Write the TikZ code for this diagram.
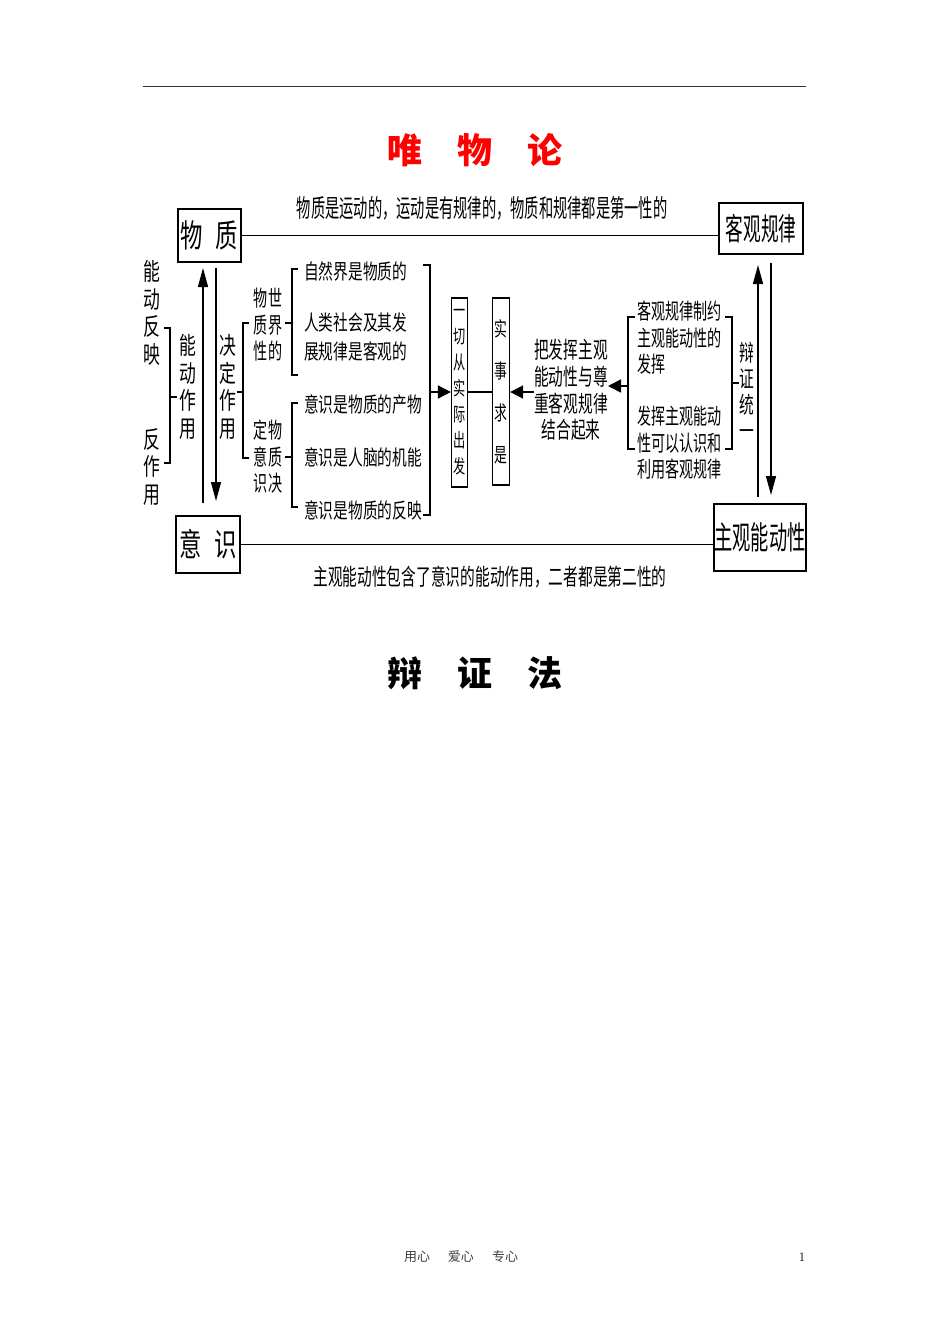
\documentclass[tikz,border=0pt]{standalone}
\usepackage{fontspec}
\usetikzlibrary{arrows.meta}
\newfontfamily\cjkA[FakeStretch=0.57]{Noto Sans CJK SC}
\newfontfamily\cjkB[FakeStretch=0.64]{Noto Sans CJK SC}
\newfontfamily\cjkC[FakeStretch=0.70]{Noto Sans CJK SC}
\newfontfamily\cjkT{Noto Sans CJK SC}
\begin{document}
\begin{tikzpicture}[x=1pt,y=-1pt,
  box/.style={draw, line width=1.4pt, inner sep=0pt},
  conn/.style={line width=1.6pt},
  brk/.style={line width=1.3pt},
  varr/.style={line width=1.3pt, -{Triangle[length=19pt,width=10pt]}},
  harr/.style={line width=1.6pt, -{Triangle[length=13pt,width=13pt]}},
  lblA/.style={inner sep=0pt, font=\cjkA\fontsize{25}{25}\selectfont},
  lblB/.style={inner sep=0pt, font=\cjkB\fontsize{23}{23}\selectfont},
  lst/.style={inner sep=0pt, anchor=west, font=\cjkC\fontsize{21}{21}\selectfont},
  rlst/.style={inner sep=0pt, anchor=west, align=left, font=\cjkB\fontsize{22}{26.5}\selectfont},
  vert/.style={inner sep=0pt, align=center, font=\cjkC\fontsize{24}{27.7}\selectfont},
  grp/.style={inner sep=0pt, align=center, font=\cjkB\fontsize{22}{26.5}\selectfont},
  title/.style={inner sep=0pt, font=\cjkT\bfseries\fontsize{35}{35}\selectfont}
]
\fill[white] (0,0) rectangle (950,1344);
\useasboundingbox (0,0) rectangle (950,1344);

% top rule
\draw[line width=0.9pt, black!80] (143,86) -- (806,86);

% title
\node[title, text=red] (t1) at (475,150) {唯\hspace{35pt}物\hspace{35pt}论};

% boxes
\node[box, minimum width=63pt, minimum height=53pt, font=\cjkC\fontsize{32}{32}\selectfont] (wz) at (209.5,235.5) {物\hspace{13pt}质};
\node[box, minimum width=84pt, minimum height=51pt, font=\cjkA\fontsize{31}{31}\selectfont] (kg) at (761,228.5) {客观规律};
\node[box, minimum width=64pt, minimum height=57pt, font=\cjkC\fontsize{32}{32}\selectfont] (ys) at (208,544.5) {意\hspace{13pt}识};
\node[box, minimum width=92pt, minimum height=67pt, font=\cjkA\fontsize{32}{32}\selectfont] (zd) at (760,537.5) {主观能动性};

% horizontal connectors
\draw[conn] (wz.east) -- (wz.east -| kg.west);
\draw[conn] (ys.east) -- (ys.east -| zd.west);
\node[lblA] (l1) at (482,208) {物质是运动的，运动是有规律的，物质和规律都是第一性的};
\node[lblB] (l2) at (490,577) {主观能动性包含了意识的能动作用，二者都是第二性的};

% left vertical texts
\node[vert] (nd) at (152,313) {能\\动\\反\\映};
\node[vert] (fz) at (152,467) {反\\作\\用};
\node[vert] (ndzy) at (188,387) {能\\动\\作\\用};
\node[vert] (jdzy) at (228,387) {决\\定\\作\\用};

% bracket near 能动反映 / 反作用
\draw[brk] (164,328) -- (170,328) -- (170,463) -- (164,463);
\draw[brk] (170,397) -- (177,397);

% left arrows
\coordinate (a1s) at (203,503); \coordinate (a1e) at (203,268);
\coordinate (a2s) at (216,268); \coordinate (a2e) at (216,501);
\draw[varr] (a1s) -- (a1e);
\draw[varr] (a2s) -- (a2e);

% bracket for two groups
\draw[brk] (249,323) -- (243,323) -- (243,458) -- (249,458);
\draw[brk] (237,392) -- (243,392);

% group labels
\node[grp] (g1) at (268,325) {物世\\质界\\性的};
\node[grp] (g2) at (268,457) {定物\\意质\\识决};

% group 1 bracket
\draw[brk] (298,269) -- (292,269) -- (292,375) -- (298,375);
\draw[brk] (285,323) -- (292,323);
\node[lst] (s1) at (304,271) {自然界是物质的};
\node[lst] (s2) at (304,323) {人类社会及其发};
\node[lst] (s3) at (304,351) {展规律是客观的};

% group 2 bracket
\draw[brk] (298,403) -- (292,403) -- (292,507) -- (298,507);
\draw[brk] (285,457) -- (292,457);
\node[lst] (s4) at (304,404) {意识是物质的产物};
\node[lst] (s5) at (304,457) {意识是人脑的机能};
\node[lst] (s6) at (304,510) {意识是物质的反映};

% big right bracket
\draw[brk] (423,265) -- (430,265) -- (430,515) -- (423,515);
\coordinate (bm) at (430,392);

% center boxes
\node[box, line width=1.2pt, minimum width=16pt, minimum height=189pt, align=center,
      font=\cjkB\fontsize{19}{26}\selectfont] (yq) at (459.5,392.5) {一\\切\\从\\实\\际\\出\\发};
\node[box, line width=1.2pt, minimum width=17pt, minimum height=187pt, align=center,
      font=\cjkB\fontsize{20}{42}\selectfont] (ss) at (501,391.5) {实\\事\\求\\是};
\draw[harr] (bm) -- (bm -| yq.west);
\draw[conn] (yq.east |- bm) -- (ss.west |- bm);

\node[grp, font=\cjkB\fontsize{23}{26.7}\selectfont] (ba) at (571,390) {把发挥主观\\能动性与尊\\重客观规律\\结合起来};
\draw[harr] (ba.west |- bm) -- (ss.east |- bm);

% right brackets
\draw[brk] (635,317) -- (628,317) -- (628,449) -- (635,449);
\coordinate (rb) at (628,386);
\draw[harr] (rb) -- (rb -| ba.east);
\node[rlst] (r1) at (637,338) {客观规律制约\\主观能动性的\\发挥};
\node[rlst] (r2) at (637,443) {发挥主观能动\\性可以认识和\\利用客观规律};
\draw[brk] (725,317) -- (732,317) -- (732,449) -- (725,449);
\draw[brk] (732,383) -- (739,383);
\node[grp, font=\cjkB\fontsize{23}{26}\selectfont] (bz) at (747,391) {辩\\证\\统\\一};

% right arrows
\coordinate (b1s) at (758,497); \coordinate (b1e) at (758,265);
\coordinate (b2s) at (771,263); \coordinate (b2e) at (771,495);
\draw[varr] (b1s) -- (b1e);
\draw[varr] (b2s) -- (b2e);

% second title
\node[title] (t2) at (475,673) {辩\hspace{35pt}证\hspace{35pt}法};

% footer
\node[inner sep=0pt, text=black!75, font=\cjkT\fontsize{13}{13}\selectfont] (ft) at (461,1257) {用心\hspace{18pt}爱心\hspace{18pt}专心};
\node[inner sep=0pt, font=\fontsize{13}{13}\selectfont] (pg) at (802,1257) {1};
\end{tikzpicture}
\end{document}
